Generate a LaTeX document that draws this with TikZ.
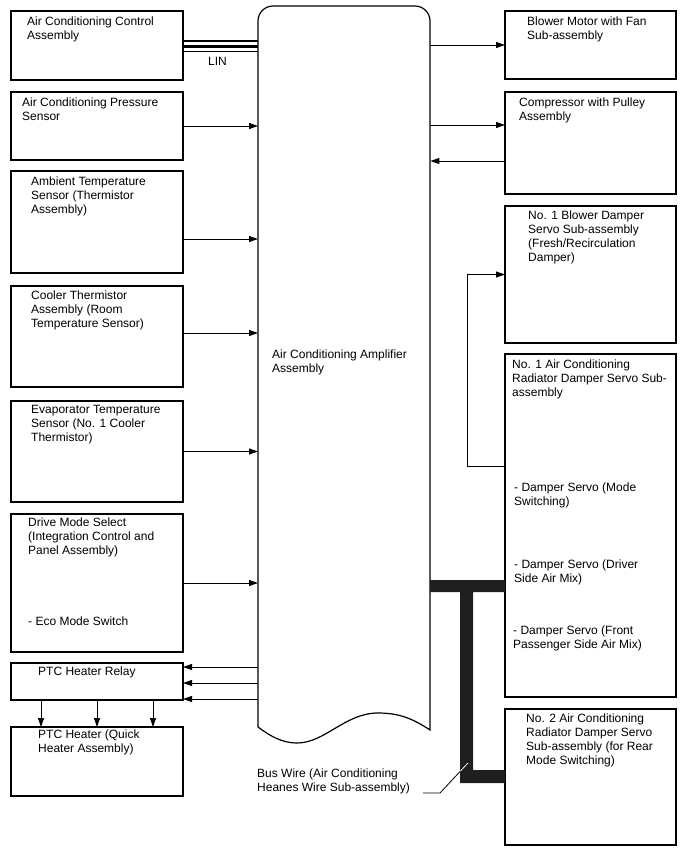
\documentclass[tikz,border=0pt]{standalone}
\usepackage{fontspec}
\setmainfont{Liberation Sans}
\usetikzlibrary{arrows.meta, positioning, calc}

\begin{document}
\begin{tikzpicture}[
    x=1pt, y=-1pt,
    box/.style={rectangle, draw, line width=1.2pt, inner sep=0pt, outer sep=0pt, anchor=north west},
    lbox/.style={box, minimum width=172pt},
    rbox/.style={box, minimum width=171pt},
    lbl/.style={anchor=north west, align=left, inner sep=0pt, font=\fontsize{12}{14}\selectfont},
    arrow/.style={-{Triangle[length=9pt, width=6pt]}, line width=0.9pt},
    lin/.style={line width=2.6pt}
]
    \useasboundingbox (0,0) rectangle (688,852);

    % Left column
    \node[lbox, minimum height=69pt] (ctrl) at (11,11) {};
    \node[lbox, minimum height=68pt, below=12pt of ctrl] (press) {};
    \node[lbox, minimum height=102pt, below=11pt of press] (amb) {};
    \node[lbox, minimum height=101pt, below=13pt of amb] (cooler) {};
    \node[lbox, minimum height=101pt, below=14pt of cooler] (evap) {};
    \node[lbox, minimum height=138pt, below=12pt of evap] (drive) {};
    \node[lbox, minimum height=37pt, below=11pt of drive] (relay) {};
    \node[lbox, minimum height=69pt, below=27pt of relay] (heater) {};

    % Amplifier
    \node[anchor=north west, minimum width=172pt, minimum height=724pt, inner sep=0pt] (amp) at (258,6) {};
    \draw[line width=1.2pt] (258,727) -- (258,21) arc[start angle=180, end angle=270, radius=15]
        -- (415,6) arc[start angle=270, end angle=360, radius=15] -- (430,730)
        .. controls (412,718) and (398,713) .. (378,713)
        .. controls (345,713) and (325,743) .. (297,743)
        .. controls (282,743) and (270,736) .. (258,727) -- cycle;

    % Right column
    \node[rbox, minimum height=68pt] (blower) at (505,11) {};
    \node[rbox, minimum height=102pt, below=13pt of blower] (comp) {};
    \node[rbox, minimum height=137pt, below=12pt of comp] (bldamp) {};
    \node[rbox, minimum height=343pt, below=11pt of bldamp] (rad1) {};
    \node[rbox, minimum height=136pt, below=12pt of rad1] (rad2) {};

    % Texts
    \node[lbl] (t-ctrl) at ([shift={(16,6)}]ctrl.north west) {Air Conditioning Control\\Assembly};
    \node[lbl] (t-press) at ([shift={(11,6)}]press.north west) {Air Conditioning Pressure\\Sensor};
    \node[lbl] (t-amb) at ([shift={(20,6)}]amb.north west) {Ambient Temperature\\Sensor (Thermistor\\Assembly)};
    \node[lbl] (t-cooler) at ([shift={(20,5)}]cooler.north west) {Cooler Thermistor\\Assembly (Room\\Temperature Sensor)};
    \node[lbl] (t-evap) at ([shift={(20,4)}]evap.north west) {Evaporator Temperature\\Sensor (No. 1 Cooler\\Thermistor)};
    \node[lbl] (t-drive) at ([shift={(17,4)}]drive.north west) {Drive Mode Select\\(Integration Control and\\Panel Assembly)};
    \node[lbl] (t-eco) at ([shift={(17,103)}]drive.north west) {- Eco Mode Switch};
    \node[lbl] (t-relay) at ([shift={(27,4)}]relay.north west) {PTC Heater Relay};
    \node[lbl] (t-heater) at ([shift={(27,3)}]heater.north west) {PTC Heater (Quick\\Heater Assembly)};
    \node[lbl] (t-amp) at ([shift={(14,344)}]amp.north west) {Air Conditioning Amplifier\\Assembly};
    \node[lbl] (t-blower) at ([shift={(22,6)}]blower.north west) {Blower Motor with Fan\\Sub-assembly};
    \node[lbl] (t-comp) at ([shift={(14,6)}]comp.north west) {Compressor with Pulley\\Assembly};
    \node[lbl] (t-bldamp) at ([shift={(23,5)}]bldamp.north west) {No. 1 Blower Damper\\Servo Sub-assembly\\(Fresh/Recirculation\\Damper)};
    \node[lbl] (t-rad1) at ([shift={(7,6)}]rad1.north west) {No. 1 Air Conditioning\\Radiator Damper Servo Sub-\\assembly};
    \node[lbl] (t-servo1) at ([shift={(9,129)}]rad1.north west) {- Damper Servo (Mode\\Switching)};
    \node[lbl] (t-servo2) at ([shift={(9,206)}]rad1.north west) {- Damper Servo (Driver\\Side Air Mix)};
    \node[lbl] (t-servo3) at ([shift={(8,272)}]rad1.north west) {- Damper Servo (Front\\Passenger Side Air Mix)};
    \node[lbl] (t-rad2) at ([shift={(21,5)}]rad2.north west) {No. 2 Air Conditioning\\Radiator Damper Servo\\Sub-assembly (for Rear\\Mode Switching)};
    \node[lbl] (t-bus) at (257,769) {Bus Wire (Air Conditioning\\Heanes Wire Sub-assembly)};
    \node[lbl] (t-lin) at (208,57) {LIN};

    % LIN bus
    \draw[lin] ([yshift=4.5pt]ctrl.east) -- ([yshift=4.5pt]ctrl.east -| amp.west);
    \draw[lin] ([yshift=-1pt]ctrl.east) -- ([yshift=-1pt]ctrl.east -| amp.west);
    \draw[line width=1.5pt] ([yshift=-6pt]ctrl.east) -- ([yshift=-6pt]ctrl.east -| amp.west);

    % Sensors to amplifier
    \coordinate (amb-out) at ([yshift=-17pt]amb.east);
    \coordinate (cooler-out) at ([yshift=3.5pt]cooler.east);
    \draw[arrow] (press.east) -- (press.east -| amp.west);
    \draw[arrow] (amb-out) -- (amb-out -| amp.west);
    \draw[arrow] (cooler-out) -- (cooler-out -| amp.west);
    \draw[arrow] (evap.east) -- (evap.east -| amp.west);
    \draw[arrow] (drive.east) -- (drive.east -| amp.west);

    % Amplifier to PTC heater relay
    \coordinate (relay-a) at ([yshift=14.5pt]relay.east);
    \coordinate (relay-b) at ([yshift=-1.5pt]relay.east);
    \coordinate (relay-c) at ([yshift=-17.5pt]relay.east);
    \draw[arrow] (relay-a -| amp.west) -- (relay-a);
    \draw[arrow] (relay-b -| amp.west) -- (relay-b);
    \draw[arrow] (relay-c -| amp.west) -- (relay-c);

    % Relay to heater
    \draw[arrow] ([xshift=-56pt]relay.south) -- ([xshift=-56pt]relay.south |- heater.north);
    \draw[arrow] (relay.south) -- (heater.north);
    \draw[arrow] ([xshift=56pt]relay.south) -- ([xshift=56pt]relay.south |- heater.north);

    % Amplifier to right side
    \coordinate (comp-in) at ([yshift=18pt]comp.west);
    \coordinate (comp-out) at ([yshift=-18pt]comp.west);
    \draw[arrow] (blower.west -| amp.east) -- (blower.west);
    \draw[arrow] (comp-in -| amp.east) -- (comp-in);
    \draw[arrow] (comp-out) -- (comp-out -| amp.east);

    % Radiator damper servo to blower damper servo
    \coordinate (turn) at (467,466);
    \draw[arrow] (turn -| rad1.west) -- (turn) |- (bldamp.west);

    % Bus wire
    \fill[black!88] (430,580) -- (505,580) -- (505,592) -- (473,592) -- (473,770) -- (505,770)
        -- (505,783) -- (460,783) -- (460,592) -- (430,592) -- cycle;
    \coordinate (bus-tip) at (468,763);
    \draw[line width=0.8pt] (423,793) -- (440,793) -- (bus-tip);
    \draw[white, line width=0.8pt] (460.5,771) -- (bus-tip);

\end{tikzpicture}
\end{document}
